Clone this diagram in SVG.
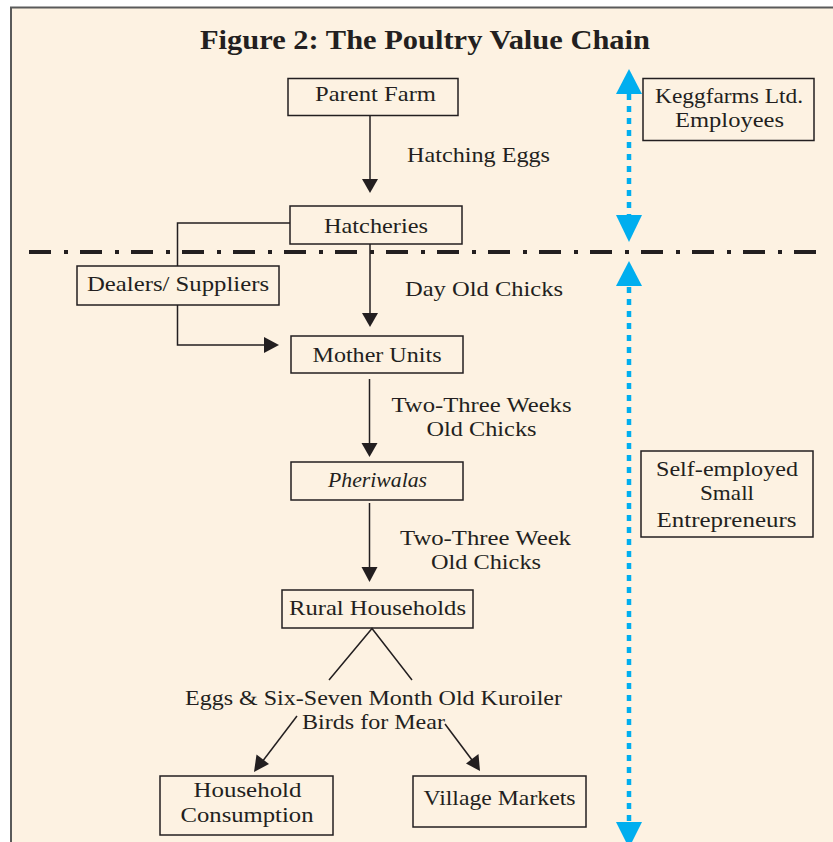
<svg xmlns="http://www.w3.org/2000/svg" width="833" height="842" viewBox="0 0 833 842">
<style>
.bg{fill:#fdf2e2}
.frame{fill:none;stroke:#5a5a5a;stroke-width:2}
.box{fill:none;stroke:#231f20;stroke-width:1.5}
.t{font-family:"Liberation Serif","Times New Roman",serif;font-size:21px;fill:#231f20;text-anchor:middle}
.it{font-style:italic}
.title{font-family:"Liberation Serif","Times New Roman",serif;font-size:28px;font-weight:bold;fill:#231f20;text-anchor:middle}
.ln{fill:none;stroke:#231f20;stroke-width:1.5}
.ah{fill:#231f20}
.sep{fill:none;stroke:#231f20;stroke-width:4;stroke-dasharray:22 13 4 12}
.blue{fill:none;stroke:#00aeef;stroke-width:4.5;stroke-dasharray:6 6}
.bh{fill:#00aeef}
</style>
<rect x="0" y="0" width="833" height="842" fill="#ffffff"/>
<rect class="bg" x="11" y="7" width="822" height="835"/>
<path class="frame" d="M11,842 V7.5 H833"/>
<text class="title" x="425" y="49" textLength="450" lengthAdjust="spacingAndGlyphs">Figure 2: The Poultry Value Chain</text>

<g id="separator">
<line class="sep" x1="29" y1="252" x2="822" y2="252"/>
</g>

<g id="connectors">
<line class="ln" x1="370" y1="116" x2="370" y2="180"/>
<polygon class="ah" points="362,179 378,179 370,193"/>
<line class="ln" x1="370" y1="244" x2="370" y2="314"/>
<polygon class="ah" points="362,313 378,313 370,327"/>
<polyline class="ln" points="290,223 177.5,223 177.5,266"/>
<polyline class="ln" points="177.5,305 177.5,345 265,345"/>
<polygon class="ah" points="264,337 264,353 279,345"/>
<line class="ln" x1="369.5" y1="379" x2="369.5" y2="444"/>
<polygon class="ah" points="361.5,443 377.5,443 369.5,457"/>
<line class="ln" x1="369.5" y1="503" x2="369.5" y2="568"/>
<polygon class="ah" points="361.5,567 377.5,567 369.5,582"/>
<polyline class="ln" points="329,680 372,628.5 412,680"/>
<line class="ln" x1="297" y1="716" x2="262" y2="762"/>
<polygon class="ah" points="254,772 256.5,754.5 269,764"/>
<line class="ln" x1="445" y1="724" x2="472" y2="760"/>
<polygon class="ah" points="480,771 466,763.5 478.5,754"/>
<text class="t" x="478.5" y="162" textLength="143" lengthAdjust="spacingAndGlyphs">Hatching Eggs</text>
<text class="t" x="484" y="296" textLength="158" lengthAdjust="spacingAndGlyphs">Day Old Chicks</text>
<text class="t" x="481.5" y="412" textLength="180" lengthAdjust="spacingAndGlyphs">Two-Three Weeks</text>
<text class="t" x="481.5" y="436" textLength="110" lengthAdjust="spacingAndGlyphs">Old Chicks</text>
<text class="t" x="485.5" y="545" textLength="171" lengthAdjust="spacingAndGlyphs">Two-Three Week</text>
<text class="t" x="486" y="569" textLength="110" lengthAdjust="spacingAndGlyphs">Old Chicks</text>
<text class="t" x="373.5" y="705" textLength="377" lengthAdjust="spacingAndGlyphs">Eggs &amp; Six-Seven Month Old Kuroiler</text>
<text class="t" x="373.5" y="729" textLength="143" lengthAdjust="spacingAndGlyphs">Birds for Mear</text>
</g>

<g id="employment-arrows">
<line class="blue" x1="629" y1="94" x2="629" y2="216"/>
<polygon class="bh" points="616,94 642,94 629,69"/>
<polygon class="bh" points="616,215 642,215 629,242"/>
<line class="blue" x1="629" y1="287" x2="629" y2="823"/>
<polygon class="bh" points="616,286 642,286 629,261"/>
<polygon class="bh" points="616,822 642,822 629,848"/>
</g>

<g id="parent-farm">
<rect class="box" x="288" y="78.5" width="170" height="37"/>
<text class="t" x="375.5" y="101" textLength="121" lengthAdjust="spacingAndGlyphs">Parent Farm</text>
</g>
<g id="hatcheries">
<rect class="box" x="290" y="206" width="172" height="38"/>
<text class="t" x="376" y="233" textLength="104" lengthAdjust="spacingAndGlyphs">Hatcheries</text>
</g>
<g id="dealers-suppliers">
<rect class="box" x="77" y="266" width="202" height="39"/>
<text class="t" x="178" y="291" textLength="182" lengthAdjust="spacingAndGlyphs">Dealers/ Suppliers</text>
</g>
<g id="mother-units">
<rect class="box" x="291" y="336" width="172" height="37"/>
<text class="t" x="377" y="362" textLength="129" lengthAdjust="spacingAndGlyphs">Mother Units</text>
</g>
<g id="pheriwalas">
<rect class="box" x="291" y="462" width="172" height="38"/>
<text class="t it" x="377.5" y="487" textLength="99" lengthAdjust="spacingAndGlyphs">Pheriwalas</text>
</g>
<g id="rural-households">
<rect class="box" x="282" y="590" width="191" height="38"/>
<text class="t" x="377.5" y="615" textLength="177" lengthAdjust="spacingAndGlyphs">Rural Households</text>
</g>
<g id="household-consumption">
<rect class="box" x="160" y="776" width="173" height="59"/>
<text class="t" x="247.5" y="797" textLength="108" lengthAdjust="spacingAndGlyphs">Household</text>
<text class="t" x="247" y="822" textLength="133" lengthAdjust="spacingAndGlyphs">Consumption</text>
</g>
<g id="village-markets">
<rect class="box" x="413" y="776" width="173" height="51"/>
<text class="t" x="499.5" y="805" textLength="152" lengthAdjust="spacingAndGlyphs">Village Markets</text>
</g>
<g id="keggfarms-employees">
<rect class="box" x="643" y="78.5" width="171" height="62"/>
<text class="t" x="729" y="103" textLength="148" lengthAdjust="spacingAndGlyphs">Keggfarms Ltd.</text>
<text class="t" x="729.5" y="127" textLength="109" lengthAdjust="spacingAndGlyphs">Employees</text>
</g>
<g id="self-employed">
<rect class="box" x="641" y="451" width="172" height="86"/>
<text class="t" x="727" y="476" textLength="142" lengthAdjust="spacingAndGlyphs">Self-employed</text>
<text class="t" x="727" y="500" textLength="54" lengthAdjust="spacingAndGlyphs">Small</text>
<text class="t" x="726.5" y="527" textLength="140" lengthAdjust="spacingAndGlyphs">Entrepreneurs</text>
</g>
</svg>
